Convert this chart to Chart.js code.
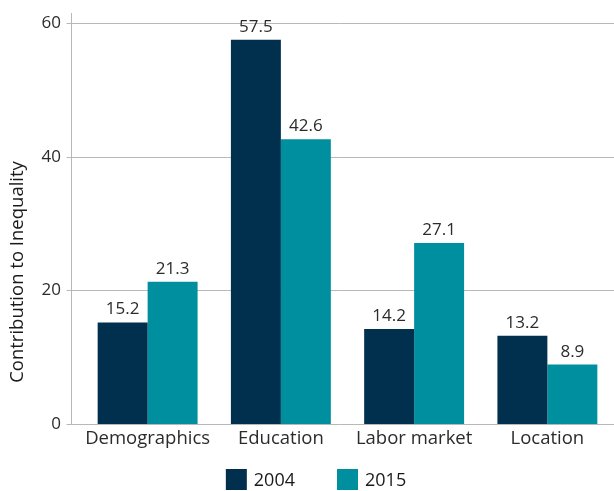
<!DOCTYPE html>
<html>
<head>
<meta charset="utf-8">
<script src="https://cdn.jsdelivr.net/npm/chart.js@4.4.1/dist/chart.umd.min.js"></script>
<style>
  html, body { margin: 0; padding: 0; background: #fff; }
  #wrap { width: 614px; height: 491px; position: relative; }
</style>
</head>
<body>
<div id="wrap"><canvas id="chart"></canvas></div>
<script>
const categories = ['Demographics', 'Education', 'Labor market', 'Location'];
const values2004 = [15.2, 57.5, 14.2, 13.2];
const values2015 = [21.3, 42.6, 27.1, 8.9];
const yTicks = [0, 20, 40, 60];
const yTitle = 'Contribution to Inequality';

const FONT = "'Open Sans', 'Noto Sans', sans-serif";
const TEXT = '#2b2b2b';
const GRID = '#b8b8b8';

// Gridlines + axis line drawn 10px left of the bar area, like the original
const axisLines = {
    id: 'axisLines',
    beforeDatasetsDraw(chart) {
        const { ctx, chartArea, scales: { y } } = chart;
        const axisX = Math.round(chartArea.left - 10) + 0.5;
        ctx.save();
        ctx.strokeStyle = GRID;
        ctx.lineWidth = 1;
        yTicks.forEach(v => {
            const py = Math.round(y.getPixelForValue(v)) + 0.5;
            ctx.beginPath();
            ctx.moveTo(axisX - 5, py);
            ctx.lineTo(chartArea.right, py);
            ctx.stroke();
        });
        ctx.beginPath();
        ctx.moveTo(axisX, chartArea.top - 10);
        ctx.lineTo(axisX, chartArea.bottom);
        ctx.stroke();
        ctx.restore();
    }
};

// Value labels, rotated y title and the legend
const labels = {
    id: 'labels',
    afterDatasetsDraw(chart) {
        const { ctx } = chart;
        ctx.save();
        ctx.fillStyle = TEXT;
        ctx.font = `17px ${FONT}`;
        ctx.textAlign = 'center';
        ctx.textBaseline = 'alphabetic';
        chart.data.datasets.forEach((ds, i) => {
            chart.getDatasetMeta(i).data.forEach((bar, j) => {
                ctx.fillText(ds.data[j].toFixed(1), bar.x, bar.y - 8);
            });
        });

        ctx.save();
        ctx.font = `18.5px ${FONT}`;
        ctx.fillStyle = '#1a1a1a';
        ctx.translate(18, 272);
        ctx.rotate(-Math.PI / 2);
        ctx.textBaseline = 'middle';
        ctx.fillText(yTitle, 0, 0);
        ctx.restore();

        // legend
        ctx.font = `18px ${FONT}`;
        ctx.textAlign = 'left';
        ctx.textBaseline = 'middle';
        const box = 21, gapText = 7, gapItem = 42;
        const items = chart.data.datasets.map(ds => ({ text: ds.label, color: ds.backgroundColor, w: ctx.measureText(ds.label).width }));
        const total = items.reduce((s, it) => s + box + gapText + it.w, 0) + gapItem * (items.length - 1);
        let x = 316 - total / 2;
        const top = 469;
        items.forEach(it => {
            ctx.fillStyle = it.color;
            ctx.fillRect(x, top, box, box);
            ctx.fillStyle = '#1a1a1a';
            ctx.fillText(it.text, x + box + gapText, top + box / 2 + 1);
            x += box + gapText + it.w + gapItem;
        });
        ctx.restore();
    }
};

new Chart(document.getElementById('chart'), {
    type: 'bar',
    data: {
        labels: categories,
        datasets: [
            { label: '2004', data: values2004, backgroundColor: '#00304d' },
            { label: '2015', data: values2015, backgroundColor: '#008f9e' }
        ]
    },
    options: {
        responsive: true,
        maintainAspectRatio: false,
        animation: false,
        categoryPercentage: 0.75,
        barPercentage: 1,
        layout: { padding: { top: 23, right: 0, left: 0, bottom: 36 } },
        plugins: {
            legend: { display: false },
            tooltip: { enabled: false }
        },
        scales: {
            x: {
                grid: { display: false, drawTicks: false },
                border: { display: false },
                ticks: { color: TEXT, font: { family: FONT, size: 18.5 }, padding: 4, maxRotation: 0 },
                afterFit: s => { s.height = 31; }
            },
            y: {
                min: 0, max: 60,
                grid: { display: false, drawTicks: false },
                border: { display: false },
                ticks: { stepSize: 20, color: TEXT, font: { family: FONT, size: 17 }, padding: 20 },
                afterFit: s => { s.width = 81; s.paddingTop = 10; s.paddingBottom = 10; }
            }
        }
    },
    plugins: [axisLines, labels]
});
</script>
</body>
</html>
